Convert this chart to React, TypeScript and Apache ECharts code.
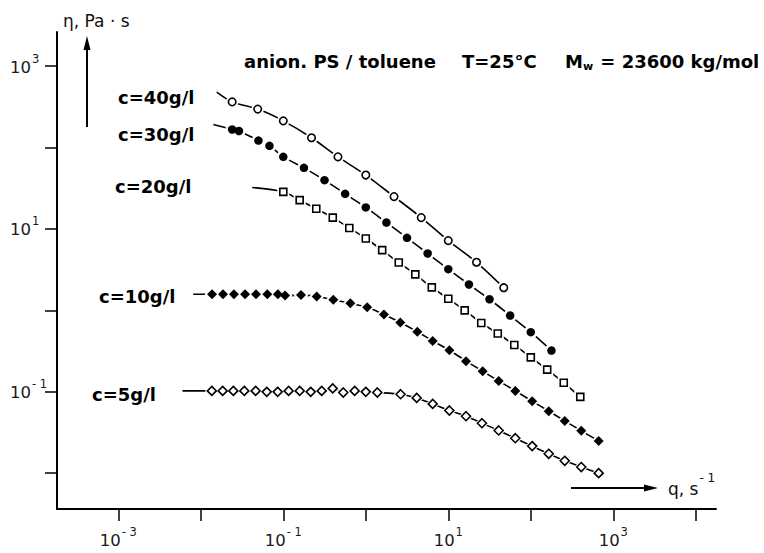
import React, { useEffect, useRef } from "react";
import * as echarts from "echarts";

// shear rate q (s^-1) and viscosity eta (Pa·s)
const q40 = [0.024, 0.049, 0.1, 0.22, 0.46, 1.0, 2.2, 4.7, 10, 22, 47];
const eta40 = [364, 297, 213, 132, 77, 46, 25, 13.8, 7.2, 3.9, 1.9];

const q30 = [0.024, 0.029, 0.05, 0.068, 0.1, 0.178, 0.316, 0.562, 1.0, 1.78, 3.16, 5.62, 10, 17.8, 31.6, 56.2, 100, 178];
const eta30 = [167, 160, 122, 105, 77, 56.4, 39.8, 27.0, 18.4, 12.0, 7.78, 5.0, 3.21, 2.08, 1.37, 0.865, 0.54, 0.321];

const q20 = [0.1, 0.158, 0.251, 0.398, 0.631, 1, 1.58, 2.51, 3.98, 6.31, 10, 15.8, 25.1, 39.8, 63.1, 100, 158, 251, 398];
const eta20 = [28.6, 22.6, 17.7, 13.8, 10.3, 7.64, 5.5, 3.87, 2.77, 1.92, 1.39, 1.0, 0.7, 0.52, 0.376, 0.265, 0.187, 0.129, 0.0865];

const q10 = [0.0137, 0.0186, 0.0252, 0.0344, 0.0467, 0.064, 0.086, 0.105, 0.164, 0.254, 0.404, 0.649, 1.04, 1.66, 2.62, 4.21, 6.47, 10.3, 16.4, 26.1, 40.8, 64.9, 104, 165, 258, 409, 665];
const eta10 = [1.58, 1.58, 1.58, 1.58, 1.58, 1.58, 1.58, 1.52, 1.54, 1.48, 1.35, 1.22, 1.09, 0.89, 0.71, 0.547, 0.422, 0.324, 0.238, 0.179, 0.136, 0.1026, 0.0766, 0.0578, 0.0439, 0.0331, 0.0249];

const q5 = [0.0136, 0.0184, 0.0248, 0.0337, 0.0462, 0.063, 0.0855, 0.116, 0.158, 0.215, 0.292, 0.397, 0.533, 0.733, 1.0, 1.38, 2.64, 4.14, 6.47, 10.3, 16.4, 25.6, 40.8, 64.9, 104, 165, 258, 409, 665];
const eta5 = [0.1026, 0.1026, 0.1026, 0.1026, 0.1026, 0.0998, 0.0998, 0.1026, 0.1026, 0.0998, 0.1026, 0.11, 0.098, 0.1026, 0.0998, 0.098, 0.0933, 0.0841, 0.071, 0.0589, 0.0501, 0.0411, 0.0335, 0.0269, 0.0215, 0.0173, 0.0142, 0.0119, 0.01];

// where each fitted curve starts, left of the first measured point
const leadQ = [0.0156, 0.0142, 0.042, 0.0081, 0.006];
const leadEta = [480, 192, 32.4, 1.58, 0.1026];

const seriesNames = ["c=40g/l", "c=30g/l", "c=20g/l", "c=10g/l", "c=5g/l"];

// axis range (decades) and tick exponents
const xLogMin = -3.743;
const xLogMax = 4.245;
const yLogMin = -2.44;
const yLogMax = 3.42;
const xTickExps = [-3, -2, -1, 0, 1, 2, 3, 4];
const xLabelExps = [-3, -1, 1, 3];
const yTickExps = [-2, -1, 0, 1, 2, 3];
const yLabelExps = [-1, 1, 3];

const FONT = "DejaVu Sans";

const expLabel = (v: number) => {
  const e = Math.round(v);
  return `{b|10}{s|${e < 0 ? "- " + -e : e}}`;
};

const labelRich = {
  b: { fontSize: 16.5, fontFamily: FONT, color: "#1a1a1a", lineHeight: 23, verticalAlign: "bottom" },
  s: { fontSize: 11.5, fontFamily: FONT, color: "#1a1a1a", lineHeight: 12, verticalAlign: "top", padding: [0, 0, 0, 1] },
};

export default function App() {
  const ref = useRef<HTMLDivElement>(null);
  useEffect(() => {
    if (!ref.current) return;
    const chart = echarts.init(ref.current, undefined, { renderer: "svg" });
    const qs = [q40, q30, q20, q10, q5];
    const etas = [eta40, eta30, eta20, eta10, eta5];
    const styles = [
      { symbol: "circle", size: 7.5, fill: "#fff" },
      { symbol: "circle", size: 8.5, fill: "#000" },
      { symbol: "rect", size: 7, fill: "#fff" },
      { symbol: "diamond", size: 10, fill: "#000" },
      { symbol: "diamond", size: 9, fill: "#fff" },
    ];
    const pts = (qq: number[], ee: number[]) => qq.map((q, i) => [Math.log10(q), Math.log10(ee[i])]);
    const series: any[] = [];
    qs.forEach((qq, k) => {
      const data = pts(qq, etas[k]);
      const st = styles[k];
      series.push({
        type: "line",
        name: seriesNames[k] + " fit",
        data: [[Math.log10(leadQ[k]), Math.log10(leadEta[k])], ...data],
        showSymbol: false,
        smooth: 0.3,
        silent: true,
        z: 1,
        lineStyle: { color: "#000", width: 1.6 },
      });
      series.push({
        type: "scatter",
        name: seriesNames[k] + " halo",
        data,
        symbol: st.symbol,
        symbolSize: st.size + 5,
        silent: true,
        z: 2,
        itemStyle: { color: "#fff", borderWidth: 0, opacity: 1 },
      });
      series.push({
        type: "scatter",
        name: seriesNames[k],
        data,
        symbol: st.symbol,
        symbolSize: st.size,
        silent: true,
        z: 3,
        itemStyle: { color: st.fill, borderColor: "#000", borderWidth: st.fill === "#fff" ? 1.6 : 0, opacity: 1 },
      });
    });

    const labelPos = [
      [118, 97],
      [118, 134],
      [115, 186.5],
      [99, 296],
      [92, 394],
    ];
    const boldText = (text: string, x: number, y: number) => ({
      type: "text",
      x,
      y,
      silent: true,
      style: {
        text,
        fill: "#000",
        fontSize: 18,
        fontFamily: FONT,
        fontWeight: "bold",
        textAlign: "left",
        textVerticalAlign: "middle",
        align: "left",
        verticalAlign: "middle",
      },
    });

    const graphic: any[] = [
      ...seriesNames.map((n, i) => boldText(n, labelPos[i][0], labelPos[i][1])),
      boldText("anion. PS / toluene", 244, 61.5),
      boldText("T=25°C", 462, 61.5),
      {
        type: "text",
        x: 565,
        y: 61.5,
        silent: true,
        style: {
          text: "M{sub|w} = 23600 kg/mol",
          fill: "#000",
          fontSize: 18,
          fontFamily: FONT,
          fontWeight: "bold",
          textAlign: "left",
          textVerticalAlign: "middle",
          align: "left",
          verticalAlign: "middle",
          rich: {
            sub: { fontSize: 11, fontFamily: FONT, fontWeight: "bold", fill: "#000", verticalAlign: "bottom", padding: [9, 1, 0, 0] },
          },
        },
      },
      {
        type: "text",
        x: 63,
        y: 21,
        silent: true,
        style: {
          text: "η, Pa · s",
          fill: "#111",
          fontSize: 17,
          fontFamily: FONT,
          textAlign: "left",
          textVerticalAlign: "middle",
          align: "left",
          verticalAlign: "middle",
        },
      },
      { type: "line", silent: true, shape: { x1: 87, y1: 127, x2: 87, y2: 46 }, style: { stroke: "#000", lineWidth: 2 } },
      { type: "polygon", silent: true, shape: { points: [[83.5, 50], [90.5, 50], [87, 36]] }, style: { fill: "#000" } },
      { type: "line", silent: true, shape: { x1: 571, y1: 488, x2: 648, y2: 488 }, style: { stroke: "#000", lineWidth: 2 } },
      { type: "polygon", silent: true, shape: { points: [[644, 484.5], [644, 491.5], [658, 488]] }, style: { fill: "#000" } },
      {
        type: "text",
        x: 668,
        y: 484.5,
        silent: true,
        style: {
          text: "{b|q, s}{sup|- 1}",
          fill: "#111",
          fontSize: 17,
          fontFamily: FONT,
          textAlign: "left",
          textVerticalAlign: "middle",
          align: "left",
          verticalAlign: "middle",
          rich: {
            b: { fontSize: 17, fontFamily: FONT, fill: "#111", lineHeight: 25, verticalAlign: "bottom" },
            sup: { fontSize: 12, fontFamily: FONT, fill: "#111", lineHeight: 12, verticalAlign: "top", padding: [0, 0, 0, 1] },
          },
        },
      },
    ];

    chart.setOption({
      animation: false,
      backgroundColor: "#fff",
      grid: { left: 57, right: 48, top: 32, bottom: 44, containLabel: false },
      xAxis: {
        type: "value",
        min: xLogMin,
        max: xLogMax,
        axisLine: { onZero: false, lineStyle: { color: "#000", width: 2 } },
        axisTick: { show: true, length: 12, lineStyle: { color: "#000", width: 1.5 }, customValues: xTickExps },
        axisLabel: {
          customValues: xLabelExps,
          formatter: expLabel,
          margin: 17,
          fontSize: 16.5,
          fontFamily: FONT,
          color: "#1a1a1a",
          rich: labelRich,
        },
        splitLine: { show: false },
      },
      yAxis: {
        type: "value",
        min: yLogMin,
        max: yLogMax,
        axisLine: { onZero: false, lineStyle: { color: "#000", width: 2 } },
        axisTick: { show: true, length: 12, lineStyle: { color: "#000", width: 1.5 }, customValues: yTickExps },
        axisLabel: {
          customValues: yLabelExps,
          formatter: expLabel,
          margin: 47,
          align: "left",
          padding: [0, 0, 4, 0],
          fontSize: 16.5,
          fontFamily: FONT,
          color: "#1a1a1a",
          rich: labelRich,
        },
        splitLine: { show: false },
      },
      series,
      graphic,
    });
    return () => chart.dispose();
  }, []);
  return (
    <div
      ref={ref}
      style={{ position: "fixed", left: 0, top: 0, width: 764, height: 553, background: "#fff" }}
    />
  );
}
